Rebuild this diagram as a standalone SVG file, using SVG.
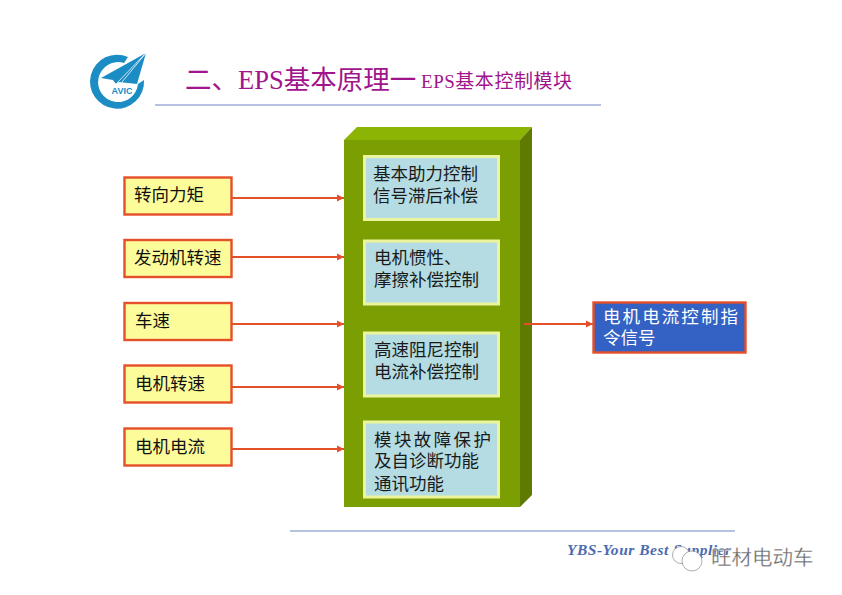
<svg xmlns="http://www.w3.org/2000/svg" width="842" height="595" viewBox="0 0 842 595">
<style>
text{font-family:"Liberation Sans","Noto Sans CJK SC",sans-serif}
.in rect{fill:#fdfc9b;stroke:#e5502a;stroke-width:2.4}
.in text{font-size:17.5px;fill:#111}
.mod rect{fill:#b4dce2;stroke:#ecf59a;stroke-width:3}
.mod text{font-size:17.5px;fill:#1a1a1a}
.conn line{stroke:#e5502a;stroke-width:2}
text.t{font-family:"Liberation Serif","Noto Sans CJK SC",serif;fill:#a0148c}
text.y{font-family:"Liberation Serif",serif;font-size:15.5px;font-weight:bold;font-style:italic;fill:#4a6cae}
</style>
<defs><marker id="a" markerWidth="8" markerHeight="8" refX="7" refY="4" orient="auto" markerUnits="userSpaceOnUse"><path d="M0 0.5L7 4L0 7.5Z" fill="#e5502a"/></marker></defs>
<rect width="842" height="595" fill="#fff"/>
<g id="logo">
<path d="M128 57A27 27 0 1 0 144 80L138 84A20 20 0 1 1 124 63Z" fill="#1b8cc4"/>
<path d="M146 53L101 78L113 80L116 84L119 82L137 84Z" fill="#1b8cc4"/>
<path d="M146 53L116 84M146 53L122 82" stroke="#fff" stroke-width="0.8" fill="none"/>
<text x="122" y="94" font-size="9" font-weight="bold" fill="#1b8cc4" text-anchor="middle">AVIC</text>
</g>
<g id="title">
<text class="t" x="185" y="89" font-size="26.500">二、EPS基本原理一</text>
<text class="t" x="421" y="88" font-size="19" textLength="151">EPS基本控制模块</text>
<line x1="155" y1="105" x2="601" y2="105" stroke="#6f86c0" stroke-width="1.200"/>
</g>
<g id="block">
<path d="M344 140L357 127H532L520 140Z" fill="#8bb404"/>
<path d="M520 140L532 127V495L520 507Z" fill="#5f7a00"/>
<rect x="344" y="140" width="176" height="367" fill="#7b9f02"/>
</g>
<g class="conn" id="connectors">
<line x1="232" y1="198" x2="344" y2="198" marker-end="url(#a)"/>
<line x1="232" y1="257" x2="344" y2="257" marker-end="url(#a)"/>
<line x1="232" y1="324" x2="344" y2="324" marker-end="url(#a)"/>
<line x1="232" y1="387" x2="344" y2="387" marker-end="url(#a)"/>
<line x1="232" y1="449" x2="344" y2="449" marker-end="url(#a)"/>
<line x1="524" y1="324" x2="593" y2="324" marker-end="url(#a)"/>
</g>
<g class="in" id="in1"><rect x="124.500" y="177.500" width="107" height="37"/><text x="134" y="201">转向力矩</text></g>
<g class="in" id="in2"><rect x="124.500" y="240" width="107" height="37"/><text x="134" y="264">发动机转速</text></g>
<g class="in" id="in3"><rect x="124.500" y="303" width="107" height="37"/><text x="135" y="327">车速</text></g>
<g class="in" id="in4"><rect x="124.500" y="365.500" width="107" height="37"/><text x="135" y="390">电机转速</text></g>
<g class="in" id="in5"><rect x="124.500" y="428.500" width="107" height="37"/><text x="135" y="453">电机电流</text></g>
<g class="mod" id="m1"><rect x="364.500" y="156.500" width="134" height="63"/><text x="373" y="180">基本助力控制</text><text x="373" y="202">信号滞后补偿</text></g>
<g class="mod" id="m2"><rect x="364.500" y="241" width="134" height="63"/><text x="374" y="264">电机惯性、</text><text x="374" y="286">摩擦补偿控制</text></g>
<g class="mod" id="m3"><rect x="364.500" y="333" width="134" height="63"/><text x="374" y="356">高速阻尼控制</text><text x="374" y="378">电流补偿控制</text></g>
<g class="mod" id="m4"><rect x="364.500" y="422" width="134" height="75"/><text x="374" y="446" textLength="117">模块故障保护</text><text x="374" y="467">及自诊断功能</text><text x="374" y="490">通讯功能</text></g>
<g id="out"><rect x="593.500" y="302.500" width="152" height="50" fill="#3461c4" stroke="#e5502a" stroke-width="2.400"/><text x="603" y="323" font-size="17.500" fill="#fff" textLength="135">电机电流控制指</text><text x="603" y="344" font-size="17.500" fill="#fff">令信号</text></g>
<g id="footer">
<line x1="290" y1="531" x2="735" y2="531" stroke="#6f86c0" stroke-width="1.200"/>
<text class="y" x="567" y="555" textLength="164">YBS-Your Best Supplier</text>
<g id="badge"><circle cx="681" cy="555" r="8.500" fill="#fff" stroke="#777" stroke-width="0.600"/><circle cx="692" cy="561" r="10" fill="#fff" stroke="#777" stroke-width="0.600"/></g>
<text x="711" y="565" font-size="20.500" fill="#666" stroke="#fff" stroke-width="0.300">旺材电动车</text>
</g>
</svg>
